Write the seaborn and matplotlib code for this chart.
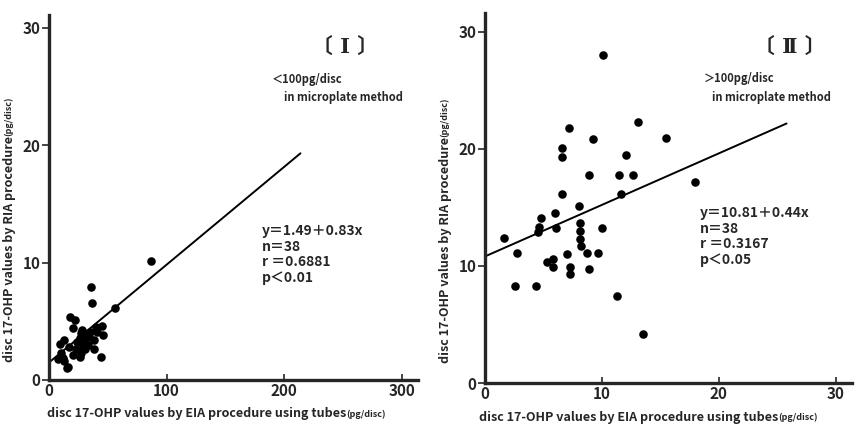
import numpy as np
import pandas as pd
import matplotlib
matplotlib.use('Agg')
import matplotlib.pyplot as plt
import seaborn as sns

# panel I : < 100 pg/disc
eia_1 = [87, 36, 37, 56, 18, 22, 20, 28, 35, 41, 45, 46, 13, 9, 24, 30, 38, 17, 23,
         31, 38, 10, 44, 13, 8, 16, 27, 20, 27, 33, 26, 34, 29, 12, 15, 26, 32, 40]
ria_1 = [10.1, 7.9, 6.6, 6.1, 5.4, 5.1, 4.4, 4.3, 4.1, 4.1, 4.6, 3.8, 3.4, 3.1, 3.2,
         3.4, 3.4, 2.8, 2.6, 2.6, 2.6, 2.3, 2.0, 1.6, 1.8, 1.1, 2.3, 2.1, 4.0, 3.0,
         3.6, 3.7, 2.9, 1.9, 1.0, 2.0, 3.9, 4.5]
# panel II : > 100 pg/disc
eia_2 = [1.6, 2.7, 2.6, 4.4, 4.5, 4.6, 4.8, 6.0, 6.1, 5.3, 5.8, 5.8, 6.6, 6.6, 7.2,
         6.6, 7.0, 7.3, 7.3, 8.0, 8.1, 8.1, 8.1, 8.2, 8.7, 8.9, 8.9, 9.2, 9.7, 10.0,
         11.3, 11.5, 11.6, 12.1, 12.7, 13.1, 13.5, 15.5, 18.0, 10.1]
ria_2 = [12.4, 11.1, 8.3, 8.3, 12.9, 13.3, 14.1, 14.5, 13.2, 10.3, 10.6, 9.9, 20.1,
         19.3, 21.8, 16.1, 11.0, 9.9, 9.3, 15.1, 13.7, 13.0, 12.3, 11.7, 11.1, 9.7,
         17.8, 20.8, 11.1, 13.2, 7.4, 17.8, 16.1, 19.5, 17.8, 22.3, 4.2, 20.9, 17.2, 28.0]

# regression lines (drawn span)
fit_1 = (1.49, 0.0833)
span_1 = [0, 214]
fit_2 = (10.81, 0.44)
span_2 = [0, 25.8]

stats_1 = 'y＝1.49＋0.83x\nn＝38\nr ＝0.6881\np＜0.01'
stats_2 = 'y＝10.81＋0.44x\nn＝38\nr ＝0.3167\np＜0.05'

sns.set_style('ticks')
fam = ['Liberation Sans Narrow', 'Noto Sans CJK JP', 'DejaVu Sans']
plt.rcParams['font.family'] = fam
plt.rcParams['font.weight'] = 'bold'

fig = plt.figure(figsize=(8.62, 4.34), dpi=100)
ax1 = fig.add_axes([49 / 862, 54 / 434, 369 / 862, 365 / 434])
ax2 = fig.add_axes([485 / 862, 51 / 434, 367 / 862, 370 / 434])

xlab = 'disc 17-OHP values by EIA procedure using tubes'
ylab = 'disc 17-OHP values by RIA procedure'


def panel(ax, x, y, fit, span, xlim, ylim, xt, yt, xc, yc):
    df = pd.DataFrame({'x': x, 'y': y})
    sns.scatterplot(data=df, x='x', y='y', ax=ax, color='black', s=38,
                    edgecolor='black', linewidth=0, zorder=3)
    lx = np.array(span)
    ly = fit[0] + fit[1] * lx
    sns.lineplot(x=lx, y=ly, ax=ax, color='black', lw=1.4)
    ax.set_xlim(*xlim)
    ax.set_ylim(*ylim)
    ax.set_xticks(xt)
    ax.set_yticks(yt)
    sns.despine(ax=ax)
    for s in ['left', 'bottom']:
        ax.spines[s].set_linewidth(2.4)
    ax.tick_params(axis='y', direction='out', length=5, width=1.2, labelsize=11, pad=1)
    ax.tick_params(axis='x', direction='in', length=4, width=1.2, labelsize=11, pad=2)
    xl = ax.set_xlabel(xlab, fontsize=9, fontweight='bold')
    yl = ax.set_ylabel(ylab, fontsize=9, fontweight='bold')
    ax.xaxis.set_label_coords(*xc)
    ax.yaxis.set_label_coords(*yc)
    ax.annotate('(pg/disc)', xy=(1, 0.1), xycoords=xl, fontsize=6.5, ha='left', va='bottom')
    ax.annotate('(pg/disc)', xy=(0.1, 1), xycoords=yl, fontsize=6.5, ha='left',
                va='bottom', rotation=90)
    ax.set_facecolor('white')


panel(ax1, eia_1, ria_1, fit_1, span_1, (0, 314), (0, 31.1),
      [0, 100, 200, 300], [0, 10, 20, 30], (0.40, -0.075), (-0.09, 0.36))
panel(ax2, eia_2, ria_2, fit_2, span_2, (0, 31.4), (0, 31.6),
      [0, 10, 20, 30], [0, 10, 20, 30], (0.39, -0.075), (-0.09, 0.36))

fig.text(345 / 862, 1 - 47 / 434, '〔 Ⅰ 〕', fontsize=15, ha='center', va='center',
         family=['DejaVu Serif', 'Noto Sans CJK JP'], fontweight='bold')
fig.text(790 / 862, 1 - 47 / 434, '〔 Ⅱ 〕', fontsize=15, ha='center', va='center',
         family=['DejaVu Serif', 'Noto Sans CJK JP'], fontweight='bold')

fig.text(272 / 862, 1 - 80 / 434, '＜100pg/disc', fontsize=8, ha='left', va='center')
fig.text(284 / 862, 1 - 97 / 434, 'in microplate method', fontsize=8, ha='left', va='center')
fig.text(704 / 862, 1 - 79 / 434, '＞100pg/disc', fontsize=8, ha='left', va='center')
fig.text(712 / 862, 1 - 97 / 434, 'in microplate method', fontsize=8, ha='left', va='center')

fig.text(262 / 862, 1 - 224 / 434, stats_1, fontsize=10, ha='left', va='top', linespacing=1.15)
fig.text(700 / 862, 1 - 206 / 434, stats_2, fontsize=10, ha='left', va='top', linespacing=1.15)

fig.savefig('out.png', dpi=100, facecolor='white')
